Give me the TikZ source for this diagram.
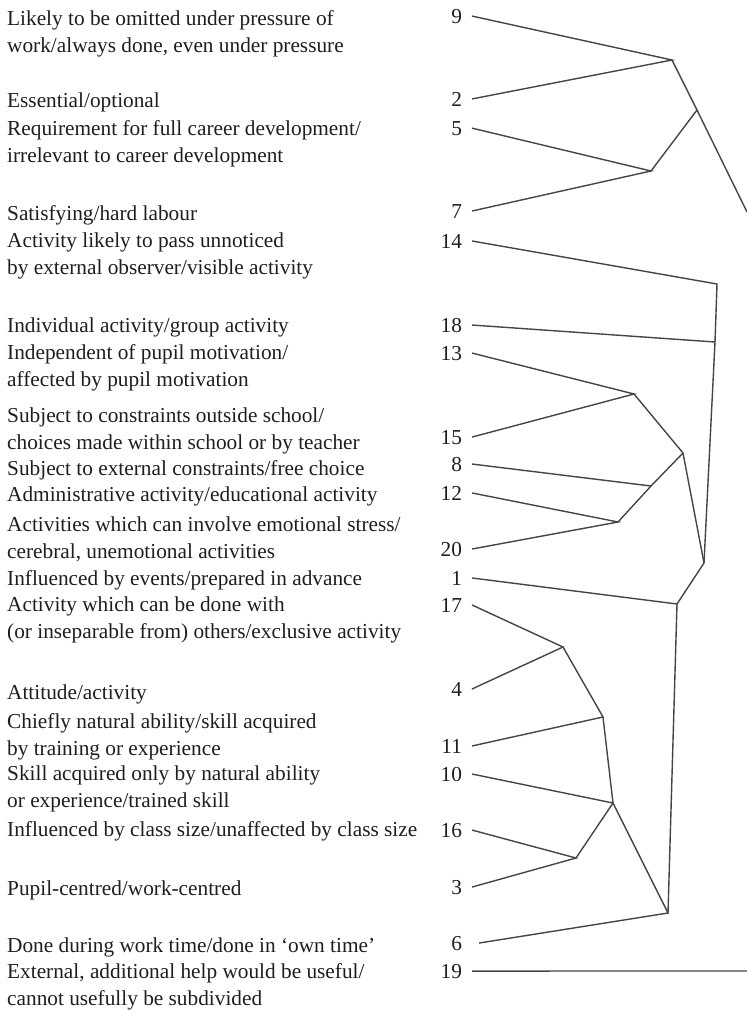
\documentclass[tikz,border=0pt]{standalone}
\usepackage{fontspec}
\setmainfont{Liberation Serif}
\definecolor{txt}{HTML}{1E1E1E}
\definecolor{ln}{HTML}{454545}
\begin{document}
\begin{tikzpicture}[x=1pt,y=-1pt,
  lbl/.style={anchor=base west, align=left, inner sep=0pt, text=txt, font=\fontsize{21.3}{27}\selectfont},
  num/.style={anchor=base east, inner sep=0pt, outer xsep=10pt, outer ysep=0pt, text=txt, font=\fontsize{21.3}{27}\selectfont},
  link/.style={draw=ln, line width=1.4pt, line join=miter}]
\useasboundingbox (0,0) rectangle (747,1010);

% labels (multi-line nodes are anchored at the baseline of their last line)
\node[lbl] (t9)  at (7,52)  {Likely to be omitted under pressure of\\work/always done, even under pressure};
\node[lbl] (t2)  at (7,107) {Essential/optional};
\node[lbl] (t5)  at (7,162) {Requirement for full career development/\\irrelevant to career development};
\node[lbl] (t7)  at (7,220) {Satisfying/hard labour};
\node[lbl] (t14) at (7,274) {Activity likely to pass unnoticed\\by external observer/visible activity};
\node[lbl] (t18) at (7,332) {Individual activity/group activity};
\node[lbl] (t13) at (7,386) {Independent of pupil motivation/\\affected by pupil motivation};
\node[lbl] (t15) at (7,449) {Subject to constraints outside school/\\choices made within school or by teacher};
\node[lbl] (t8)  at (7,475) {Subject to external constraints/free choice};
\node[lbl] (t12) at (7,501) {Administrative activity/educational activity};
\node[lbl] (t20) at (7,558) {Activities which can involve emotional stress/\\cerebral, unemotional activities};
\node[lbl] (t1)  at (7,585) {Influenced by events/prepared in advance};
\node[lbl] (t17) at (7,638) {Activity which can be done with\\(or inseparable from) others/exclusive activity};
\node[lbl] (t4)  at (7,699) {Attitude/activity};
\node[lbl] (t11) at (7,755) {Chiefly natural ability/skill acquired\\by training or experience};
\node[lbl] (t10) at (7,807) {Skill acquired only by natural ability\\or experience/trained skill};
\node[lbl] (t16) at (7,836) {Influenced by class size/unaffected by class size};
\node[lbl] (t3)  at (7,895) {Pupil-centred/work-centred};
\node[lbl] (t6)  at (7,952) {Done during work time/done in ‘own time’};
\node[lbl] (t19) at (7,1005) {External, additional help would be useful/\\cannot usefully be subdivided};

% numbers
\node[num] (n9)  at (472,23)  {9};
\node[num] (n2)  at (472,106) {2};
\node[num] (n5)  at (472,135) {5};
\node[num] (n7)  at (472,218) {7};
\node[num] (n14) at (472,248) {14};
\node[num] (n18) at (472,332) {18};
\node[num] (n13) at (472,360) {13};
\node[num] (n15) at (472,444) {15};
\node[num] (n8)  at (472,471) {8};
\node[num] (n12) at (472,500) {12};
\node[num] (n20) at (472,556) {20};
\node[num] (n1)  at (472,585) {1};
\node[num] (n17) at (472,612) {17};
\node[num] (n4)  at (472,696) {4};
\node[num] (n11) at (472,753) {11};
\node[num] (n10) at (472,781) {10};
\node[num] (n16) at (472,837) {16};
\node[num] (n3)  at (472,894) {3};
\node[num] (n6)  at (472,950) {6};
\node[num] (n19) at (472,978) {19};

% joints
\coordinate (A) at (672,60);
\coordinate (B) at (651,171);
\coordinate (C) at (697,110);
\coordinate (R1) at (747,212);
\coordinate (D) at (717,284);
\coordinate (E) at (715,342);
\coordinate (F) at (634,394);
\coordinate (G) at (651,486);
\coordinate (H) at (618,522);
\coordinate (I) at (683,453);
\coordinate (J) at (704,563);
\coordinate (K) at (677,604);
\coordinate (L) at (563,647);
\coordinate (M) at (603,717);
\coordinate (N) at (613,803);
\coordinate (O) at (576,858);
\coordinate (P) at (668,913);
\coordinate (R2) at (747,971);

% connectors
\draw[link] (n9.east) -- (A) -- (n2.east);
\draw[link] (n5.east) -- (B) -- (n7.east);
\draw[link] (B) -- (C);
\draw[link] (A) -- (C) -- (R1);
\draw[link] (n14.east) -- (D) -- (E) -- (J);
\draw[link] (n18.east) -- (E);
\draw[link] (n13.east) -- (F) -- (n15.east);
\draw[link] (n12.east) -- (H) -- (n20.east);
\draw[link] (n8.east) -- (G);
\draw[link] (H) -- (G) -- (I);
\draw[link] (F) -- (I) -- (J);
\draw[link] (n1.east) -- (K) -- (J);
\draw[link] (K) -- (P);
\draw[link] (n17.east) -- (L) -- (n4.east);
\draw[link] (L) -- (M) -- (n11.east);
\draw[link] (M) -- (N) -- (n10.east);
\draw[link] (n16.east) -- (O) -- (n3.east);
\draw[link] (O) -- (N) -- (P) -- ([xshift=7pt]n6.east);
\draw[link] (n19.east) -- (R2);
\end{tikzpicture}
\end{document}
